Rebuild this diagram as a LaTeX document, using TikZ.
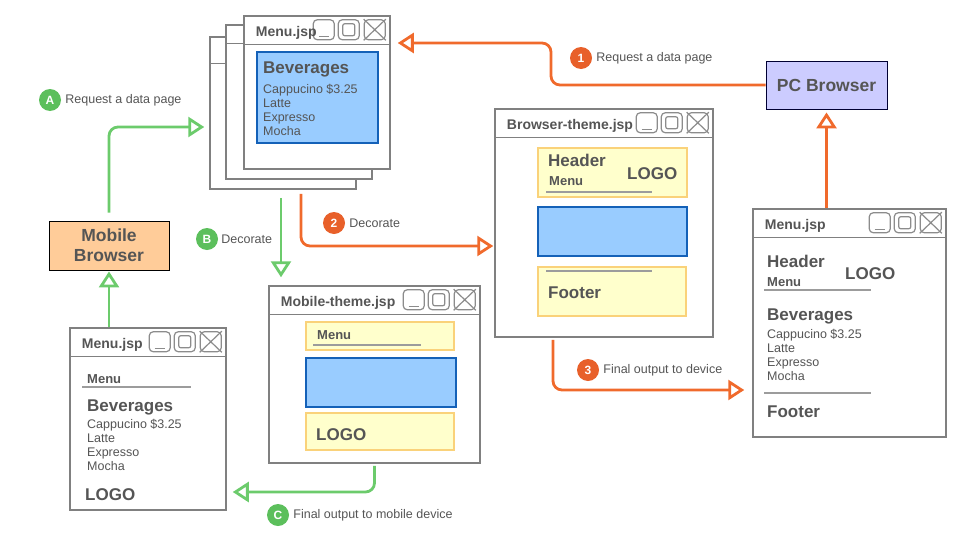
\documentclass[tikz,border=0pt]{standalone}
\usepackage{fontspec}
\setmainfont{Liberation Sans}
\usetikzlibrary{positioning,calc,arrows.meta}

\definecolor{wingray}{HTML}{808080}
\definecolor{btngray}{HTML}{8C8C8C}
\definecolor{txtgray}{HTML}{555555}
\definecolor{flowred}{HTML}{F06A2C}
\definecolor{flowgreen}{HTML}{6CCB6C}
\definecolor{badgered}{HTML}{E8602A}
\definecolor{badgegreen}{HTML}{5CBF5C}
\definecolor{paleyellow}{HTML}{FFFFCC}
\definecolor{yellowedge}{HTML}{FAD27A}
\definecolor{skyblue}{HTML}{99CCFF}
\definecolor{blueedge}{HTML}{1461B8}
\definecolor{peach}{HTML}{FFCC99}
\definecolor{lavender}{HTML}{CCCCFF}
\definecolor{rulegray}{HTML}{9C9C9C}

\tikzset{
  win/.style={draw=wingray, line width=1.5pt, fill=white, inner sep=0pt},
  winline/.style={draw=wingray, line width=1.5pt},
  wbtn/.style={draw=btngray, line width=1.2pt, rounded corners=4pt, minimum width=21pt, minimum height=20pt, inner sep=0pt},
  btnline/.style={draw=btngray, line width=1.2pt},
  wtitle/.style={anchor=base west, inner sep=0pt, text=txtgray, font=\fontsize{14}{16}\selectfont\bfseries},
  headtxt/.style={anchor=base west, inner sep=0pt, text=txtgray, font=\fontsize{17}{20}\selectfont\bfseries},
  menutxt/.style={anchor=base west, inner sep=0pt, text=txtgray, font=\fontsize{13}{15}\selectfont\bfseries},
  itemtxt/.style={anchor=base west, inner sep=0pt, text=txtgray, font=\fontsize{12.5}{14}\selectfont},
  yellowbox/.style={draw=yellowedge, line width=1.5pt, fill=paleyellow, inner sep=0pt},
  bluebox/.style={draw=blueedge, line width=1.8pt, fill=skyblue, inner sep=0pt},
  rule/.style={draw=rulegray, line width=2pt},
  mobbox/.style={draw=black, line width=0.9pt, fill=peach, minimum width=120pt, minimum height=49pt, align=center, text=txtgray, font=\fontsize{17.5}{20}\selectfont\bfseries},
  pcbox/.style={draw=black!80!blue, line width=0.9pt, fill=lavender, minimum width=121pt, minimum height=48pt, text=txtgray, font=\fontsize{17.5}{20}\selectfont\bfseries},
  redflow/.style={draw=flowred, line width=2.8pt, rounded corners=9pt, -{Triangle[open, length=16pt, width=20pt]}},
  greenflow/.style={draw=flowgreen, line width=2.8pt, rounded corners=9pt, -{Triangle[open, length=16pt, width=20pt]}},
  redbadge/.style={circle, fill=badgered, minimum size=22pt, inner sep=0pt, text=white, font=\fontsize{12}{14}\selectfont\bfseries},
  greenbadge/.style={circle, fill=badgegreen, minimum size=22pt, inner sep=0pt, text=white, font=\fontsize{12}{14}\selectfont\bfseries},
  lbl/.style={inner sep=1pt, text=txtgray, font=\fontsize{12.5}{14}\selectfont}
}

% title bar with the three buttons
\newcommand{\wintitle}[2]{%
  \draw[winline] ($(#1.north west)+(0,29)$) -- ($(#1.north east)+(0,29)$);
  \node[wbtn] (#1-min) at ($(#1.north east)+(-67,14.5)$) {};
  \node[wbtn] (#1-max) at ($(#1.north east)+(-42,14.5)$) {};
  \node[wbtn] (#1-cls) at ($(#1.north east)+(-16,14.5)$) {};
  \draw[btnline] ($(#1-min.south west)+(6,-4)$) -- ($(#1-min.south east)+(-6,-4)$);
  \draw[btnline, rounded corners=2pt] ($(#1-max.center)+(-6,-6)$) rectangle ($(#1-max.center)+(6,6)$);
  \draw[btnline] (#1-cls.north west) -- (#1-cls.south east) (#1-cls.north east) -- (#1-cls.south west);
  \node[wtitle] (#1-title) at ($(#1.north west)+(12.5,21.5)$) {#2};
}

% the four drinks
\newcommand{\drinklist}[3]{%
  \foreach \dname [count=\i] in {Cappucino \$3.25, Latte, Expresso, Mocha}
    \node[itemtxt] (#1-d\i) at (#2, #3+14*\i-14) {\dname};
}

\begin{document}
\begin{tikzpicture}[x=1pt, y=-1pt]
\useasboundingbox (0,0) rectangle (968,546);

% Menu.jsp stack
\node[win, minimum width=146pt, minimum height=152pt] (stackback) at (283,113) {};
\draw[winline] ($(stackback.north west)+(0,27)$) -- ($(stackback.north east)+(0,27)$);
\node[win, minimum width=146pt, minimum height=154pt] (stackmid) at (299,102) {};
\draw[winline] ($(stackmid.north west)+(0,19)$) -- ($(stackmid.north east)+(0,19)$);
\node[win, minimum width=146pt, minimum height=153pt] (menustack) at (317,92.5) {};
\wintitle{menustack}{Menu.jsp}
\node[bluebox, minimum width=121pt, minimum height=91pt] (scontent) at (317.5,97.5) {};
\node[headtxt] (s-bev) at (263,73) {Beverages};
\drinklist{s}{263}{93}

% Browser-theme.jsp
\node[win, minimum width=218pt, minimum height=228pt] (bthemewin) at (604,223) {};
\wintitle{bthemewin}{Browser-theme.jsp}
\node[yellowbox, minimum width=149pt, minimum height=49pt] (bheader) at (612.5,172.5) {};
\node[headtxt] (b-head) at (548,166) {Header};
\node[menutxt] (b-menu) at (549,185) {Menu};
\node[headtxt] (b-logo) at (627,179) {LOGO};
\draw[rule] ($(bheader.south west)+(9,-6)$) -- ++(106,0);
\node[bluebox, minimum width=149pt, minimum height=49pt] (bcontent) at (612.5,231.5) {};
\node[yellowbox, minimum width=148pt, minimum height=49pt] (bfooter) at (612,291.5) {};
\draw[rule] ($(bfooter.north west)+(9,5)$) -- ++(106,0);
\node[headtxt] (b-foot) at (548,298) {Footer};

% final Menu.jsp
\node[win, minimum width=193pt, minimum height=228pt] (outmenu) at (849.5,323) {};
\wintitle{outmenu}{Menu.jsp}
\node[headtxt] (o-head) at (767,267) {Header};
\node[menutxt] (o-menu) at (767,286) {Menu};
\node[headtxt] (o-logo) at (845,279) {LOGO};
\draw[rule] ($(outmenu.north west)+(12,82)$) -- ++(107,0);
\node[headtxt] (o-bev) at (767,320) {Beverages};
\drinklist{o}{767}{338}
\draw[rule] ($(outmenu.north west)+(12,185)$) -- ++(107,0);
\node[headtxt] (o-foot) at (767,417) {Footer};

% Mobile-theme.jsp
\node[win, minimum width=211pt, minimum height=177pt] (mthemewin) at (374.5,374.5) {};
\wintitle{mthemewin}{Mobile-theme.jsp}
\node[yellowbox, minimum width=148pt, minimum height=28pt] (mmenu) at (380,336) {};
\node[menutxt] (m-menu) at (317,339) {Menu};
\draw[rule] ($(mmenu.south west)+(8,-6)$) -- ++(108,0);
\node[bluebox, minimum width=150pt, minimum height=49pt] (mcontent) at (381,382.5) {};
\node[yellowbox, minimum width=148pt, minimum height=37pt] (mlogo) at (380,431.5) {};
\node[headtxt] (m-logo) at (316,440) {LOGO};

% mobile Menu.jsp
\node[win, minimum width=156pt, minimum height=182pt] (mobmenu) at (148,419) {};
\wintitle{mobmenu}{Menu.jsp}
\node[menutxt] (p-menu) at (87,383) {Menu};
\draw[rule] ($(mobmenu.north west)+(13,60)$) -- ++(109,0);
\node[headtxt] (p-bev) at (87,411) {Beverages};
\drinklist{p}{87}{428.5}
\node[headtxt] (p-logo) at (85,500) {LOGO};

% browsers
\node[mobbox] (mobbrowser) at (109,245.5) {Mobile\\Browser};
\node[pcbox] (pcbrowser) at (826.5,85) {PC Browser};

% PC flow
\coordinate (k1) at (551,43);
\draw[redflow, shorten >=7pt] (pcbrowser.west) -| (k1) -- (menustack.east |- k1);
\node[redbadge] (b1) at (581,58) {1};
\node[lbl, right=3pt of b1] (l1) {Request a data page};

\coordinate (k2) at (301,246);
\draw[redflow, shorten <=4pt, shorten >=1pt] (stackback.south -| k2) |- (bthemewin.west |- k2);
\node[redbadge] (b2) at (334,223) {2};
\node[lbl, right=3pt of b2] (l2) {Decorate};

\coordinate (k3) at (553,390);
\draw[redflow, shorten <=2pt, shorten >=8pt] (bthemewin.south -| k3) |- (outmenu.west |- k3);
\node[redbadge] (b3) at (588,370) {3};
\node[lbl, right=3pt of b3] (l3) {Final output to device};

\draw[redflow, shorten >=3pt] (pcbrowser.south |- outmenu.north) -- (pcbrowser.south);

% mobile flow
\coordinate (ka) at (109,127);
\draw[greenflow, shorten <=8pt, shorten >=5pt] (mobbrowser.north) |- (stackback.west |- ka);
\node[greenbadge] (ba) at (50,100) {A};
\node[lbl, right=3pt of ba] (la) {Request a data page};

\coordinate (kb) at (281,0);
\draw[greenflow, shorten <=8pt, shorten >=8pt] (stackback.south -| kb) -- (mthemewin.north -| kb);
\node[greenbadge] (bb) at (207,239) {B};
\node[lbl, right=2pt of bb] (lb) {Decorate};

\coordinate (kc) at (374,492);
\draw[greenflow, shorten <=2pt, shorten >=6pt] (mthemewin.south) |- (mobmenu.east |- kc);
\node[greenbadge] (bc) at (278,515) {C};
\node[lbl, right=3pt of bc] (lc) {Final output to mobile device};

\draw[greenflow, shorten >=1pt] (mobbrowser.south |- mobmenu.north) -- (mobbrowser.south);
\end{tikzpicture}
\end{document}
